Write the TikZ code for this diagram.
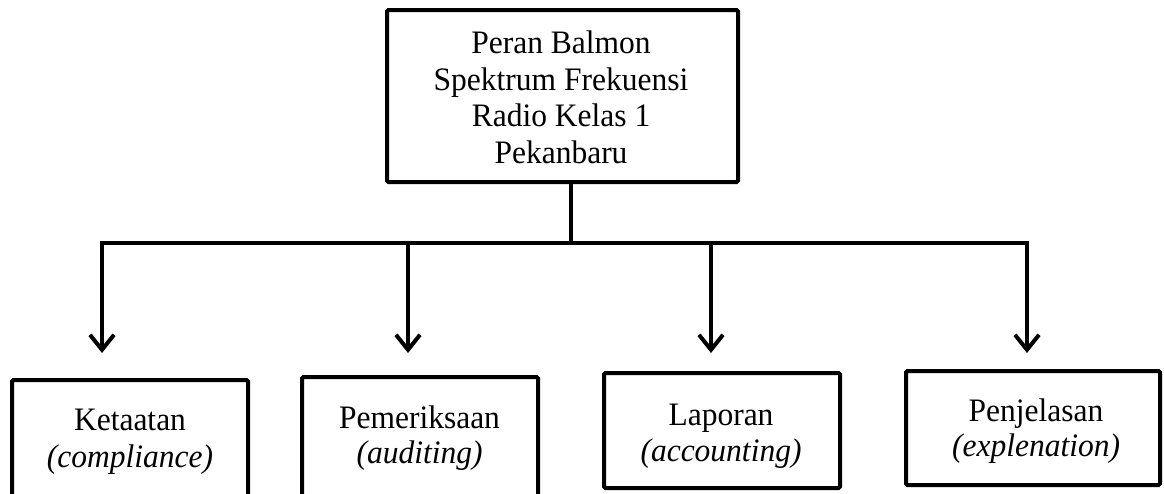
\documentclass[tikz,border=0pt]{standalone}
\usepackage{fontspec}
\setmainfont{Liberation Serif}
\usetikzlibrary{arrows.meta}
\begin{document}
\begin{tikzpicture}[x=1pt,y=-1pt,
  box/.style={draw, line width=4pt, rounded corners=1.5pt, inner sep=0pt, fill=white},
  lbl/.style={anchor=base, inner sep=0pt, yscale=1.04, transform shape,
    font=\fontsize{31.5}{36}\selectfont},
  conn/.style={line width=4pt},
  barb/.tip={Straight Barb[length=15pt,width=24pt]}
]
\useasboundingbox (0,0) rectangle (1164,493);
\clip (0,0) rectangle (1164,493);
\fill[white] (0,0) rectangle (1164,493);

% main box
\node[box, minimum width=351pt, minimum height=172pt] (top) at (562.5,96) {};
\node[lbl] (top1) at (561,53.5) {Peran Balmon};
\node[lbl] (top2) at (561,90.2) {Spektrum Frekuensi};
\node[lbl] (top3) at (561,126.9) {Radio Kelas 1};
\node[lbl] (top4) at (561,163.6) {Pekanbaru};

% sub boxes
\node[box, minimum width=236pt, minimum height=126pt] (b1) at (130,443) {};
\node[box, minimum width=236pt, minimum height=126pt] (b2) at (420,440) {};
\node[box, minimum width=236pt, minimum height=115pt] (b3) at (722,430.5) {};
\node[box, minimum width=254pt, minimum height=114pt] (b4) at (1033,428) {};

\node[lbl] (b1a) at (130,430) {Ketaatan};
\node[lbl] (b1b) at (130,467) {\itshape (compliance)};
\node[lbl] (b2a) at (419.5,428.3) {Pemeriksaan};
\node[lbl] (b2b) at (419.5,463.3) {\itshape (auditing)};
\node[lbl] (b3a) at (721,425) {Laporan};
\node[lbl] (b3b) at (721,461.7) {\itshape (accounting)};
\node[lbl] (b4a) at (1036,421.7) {Penjelasan};
\node[lbl] (b4b) at (1036,456.7) {\itshape (explenation)};

% junction and tip coordinates
\coordinate (j0) at (571,243);
\coordinate (j1) at (102,243);
\coordinate (j2) at (408,243);
\coordinate (j3) at (711,243);
\coordinate (j4) at (1027,243);
\coordinate (t1) at (102,353);
\coordinate (t2) at (408,353);
\coordinate (t3) at (711,353);
\coordinate (t4) at (1027,353);

% connectors
\draw[conn] (top.south -| j0) -- (j0);
\draw[conn, line join=miter, {barb}-{barb}] (t1) -- (j1) -- (j4) -- (t4);
\draw[conn, -{barb}] (j2) -- (t2);
\draw[conn, -{barb}] (j3) -- (t3);
\end{tikzpicture}
\end{document}
